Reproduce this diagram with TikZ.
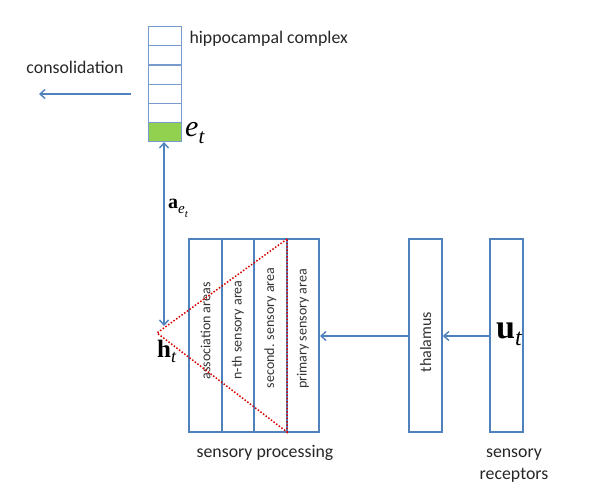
\documentclass[tikz,border=0pt]{standalone}
\usepackage{fontspec}
\setmainfont{Carlito}
\newfontfamily\serif{Liberation Serif}
\usetikzlibrary{arrows.meta}
\definecolor{bl}{RGB}{79,129,189}
\definecolor{cellbl}{RGB}{120,155,205}
\definecolor{gr}{RGB}{146,208,80}
\newcommand\fsz[1]{\fontsize{#1}{#1}\selectfont}
\tikzset{
  box/.style={draw=bl,line width=1.6pt},
  cell/.style={draw=cellbl,line width=0.8pt},
  arr/.style={draw=bl,line width=1.6pt,-{Straight Barb[length=5pt,width=9pt,line width=1.4pt]}},
  darr/.style={draw=bl,line width=1.6pt,{Straight Barb[length=5pt,width=9pt,line width=1.4pt]}-{Straight Barb[length=5pt,width=9pt,line width=1.4pt]}},
  vlab/.style={rotate=90,font=\fontsize{14}{16}\selectfont,text=black!80},
  lab/.style={font=\fontsize{17.8}{20}\selectfont,text=black!85},
  reddot/.style={draw=red!85!black,line width=1.5pt,dash pattern=on 1.5pt off 1.8pt},
  mlab/.style={inner sep=0pt,font=\serif}
}
\begin{document}
\begin{tikzpicture}[x=1pt,y=-1pt]
\useasboundingbox (0,0) rectangle (602,501);
% hippocampal stack
\fill[gr] (148,122) rectangle (181,142);
\foreach \y in {26,45,65,84,103,122}{
  \draw[cell] (148,\y) rectangle (181,\y+19.3);
}
\coordinate (hipbot) at (164,142);
\node[lab,anchor=west] (hiplab) at (186,39) {hippocampal complex};
\node[mlab,anchor=west] (et) at (185,133) {\itshape\fsz{30}e\raisebox{-7pt}{\fsz{21}t}};
% consolidation
\coordinate (consA) at (131,94);
\coordinate (consB) at (39,94);
\draw[arr] (consA) -- (consB);
\node[lab] (conslab) at (75,67) {consolidation};
% sensory processing boxes
\draw[box] (189,239) rectangle (222,432);
\draw[box] (222,239) rectangle (254,432);
\draw[box] (254,239) rectangle (287,432);
\draw[box] (287,239) rectangle (319,432);
\node[vlab] (assoc) at (205.5,331) {association areas};
\node[vlab] (nth) at (238,330) {n-th sensory area};
\node[vlab] (second) at (270.5,328) {second. sensory area};
\node[vlab] (primary) at (303,329) {primary sensory area};
\coordinate (spR) at (320,336);
% red dotted triangle
\coordinate (apex) at (157,333);
\draw[reddot] (287,239) -- (apex) -- (287,432) -- cycle;
% ht
\coordinate (htTop) at (164,326);
\draw[darr] (hipbot) -- (htTop);
\node[mlab,anchor=west] (ae) at (168,208) {\bfseries\fsz{20}a\raisebox{-5pt}{\mdseries\itshape\fsz{15}e\raisebox{-4pt}{\fsz{11}t}}};
\node[mlab,anchor=west] (ht) at (157,351) {\bfseries\fsz{25}h\raisebox{-5pt}{\mdseries\itshape\fsz{18}t}};
% thalamus
\node[box,minimum width=33pt,minimum height=193pt,inner sep=0pt] (thal) at (425.5,335.5) {};
\node[vlab,font=\fontsize{16}{18}\selectfont] (thallab) at (425.5,342) {thalamus};
% receptors
\node[box,minimum width=33pt,minimum height=193pt,inner sep=0pt] (rec) at (506.5,335.5) {};
\node[mlab] (ut) at (509,334) {\bfseries\fsz{34}u\raisebox{-7pt}{\mdseries\itshape\fsz{24}t}};
% arrows
\draw[arr] (rec.west |- 0,336) -- (thal.east |- 0,336);
\draw[arr] (thal.west |- 0,336) -- (spR);
% bottom labels
\node[lab] (splab) at (265,453) {sensory processing};
\node[lab,align=center] (reclab) at (514,466) {sensory\\[2pt]receptors};
\end{tikzpicture}
\end{document}
